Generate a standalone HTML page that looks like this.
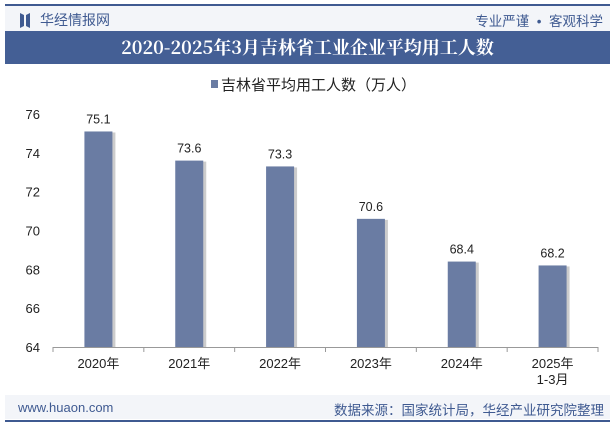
<!DOCTYPE html>
<html><head><meta charset="utf-8"><style>
body{margin:0;width:615px;height:427px;background:#fff;overflow:hidden;font-family:"Liberation Sans","Noto Sans CJK SC",sans-serif;position:relative}
.abs{position:absolute}
</style></head><body>
<div class="abs" style="left:5px;top:4px;width:605px;height:2px;background:#3f5a91"></div>
<div class="abs" style="left:5px;top:6px;width:605px;height:25px;background:#f3f5f9"></div>
<svg class="abs" style="left:20px;top:13px" width="10" height="15"><polygon points="0,0 4,2 4,13 0,15" fill="#3f5a91"/><polygon points="10,0 6,2 6,13 10,15" fill="#3f5a91"/></svg>
<div class="abs" style="left:40px;top:10px;font-size:14px;color:#3f5a91">华经情报网</div>
<div class="abs" style="right:12px;top:10px;font-size:13.5px;color:#3f5a91">专业严谨 &nbsp;•&nbsp; 客观科学</div>
<div class="abs" style="left:5px;top:31px;width:605px;height:33px;background:#445f95;color:#fff;font-family:'Noto Serif CJK SC','Liberation Serif',serif;font-weight:bold;font-size:18px;line-height:33px;text-align:center">2020-2025年3月吉林省工业企业平均用工人数</div>
<div class="abs" style="left:211px;top:74px;font-size:15px;color:#222"><span style="display:inline-block;width:7px;height:8px;background:#6a7ca3;margin-right:3px;vertical-align:2px"></span>吉林省平均用工人数（万人）</div>
<svg class="abs" style="left:0;top:0" width="615" height="427" id="chart"></svg>
<div class="abs" style="left:5px;top:395px;width:605px;height:24px;background:#f3f5f9"></div>
<div class="abs" style="left:5px;top:420px;width:605px;height:2px;background:#3f5a91"></div>
<div class="abs" style="left:18px;top:400px;font-size:13px;color:#3f5a91">www.huaon.com</div>
<div class="abs" style="right:11px;top:399px;font-size:13.5px;color:#3f5a91">数据来源：国家统计局，华经产业研究院整理</div>
<script>
const categories=["2020年","2021年","2022年","2023年","2024年","2025年\n1-3月"];
const values=[75.1,73.6,73.3,70.6,68.4,68.2];
const yTicks=[64,66,68,70,72,74,76];
const ns="http://www.w3.org/2000/svg";
const svg=document.getElementById('chart');
const x0=53,x1=598,yMin=64,yMax=76,py0=347,py1=114;
const y=v=>py0-(v-yMin)/(yMax-yMin)*(py0-py1);
const band=(x1-x0)/categories.length;
const xc=i=>x0+band*(i+0.5);
function mk(t,a){const e=document.createElementNS(ns,t);for(const k in a)e.setAttribute(k,a[k]);svg.appendChild(e);return e;}
yTicks.forEach(t=>{
 const tx=mk('text',{x:40,y:y(t)+5,'text-anchor':'end','font-size':13,fill:'#222'});
 tx.textContent=t;
 
 
});
const ax=mk('line',{x1:x0,x2:x1,y1:py0+0.5,y2:py0+0.5,stroke:'#999'});


for(let i=0;i<=categories.length;i++){
 const tk=mk('line',{x1:x0+band*i,x2:x0+band*i,y1:py0,y2:py0+5,stroke:'#999'});
 
 
}
values.forEach((v,i)=>{
 const w=28,cx=xc(i);
 const sh=mk('rect',{x:cx-w/2+3,y:y(v)+1,width:w,height:py0-y(v)-1,fill:'#ccc'});
 
 
 const r=mk('rect',{x:cx-w/2,y:y(v),width:w,height:py0-y(v),fill:'#6a7ca3'});
 
 
 const lb=mk('text',{x:cx,y:y(v)-8,'text-anchor':'middle','font-size':12.5,fill:'#222'});
 lb.textContent=v.toFixed(1);
 
 
 categories[i].split('\n').forEach((ln,j)=>{
  const c=mk('text',{x:cx,y:368+j*16,'text-anchor':'middle','font-size':13,fill:'#222'});
  c.textContent=ln;
  
  
 });
});
</script>
</body></html>
